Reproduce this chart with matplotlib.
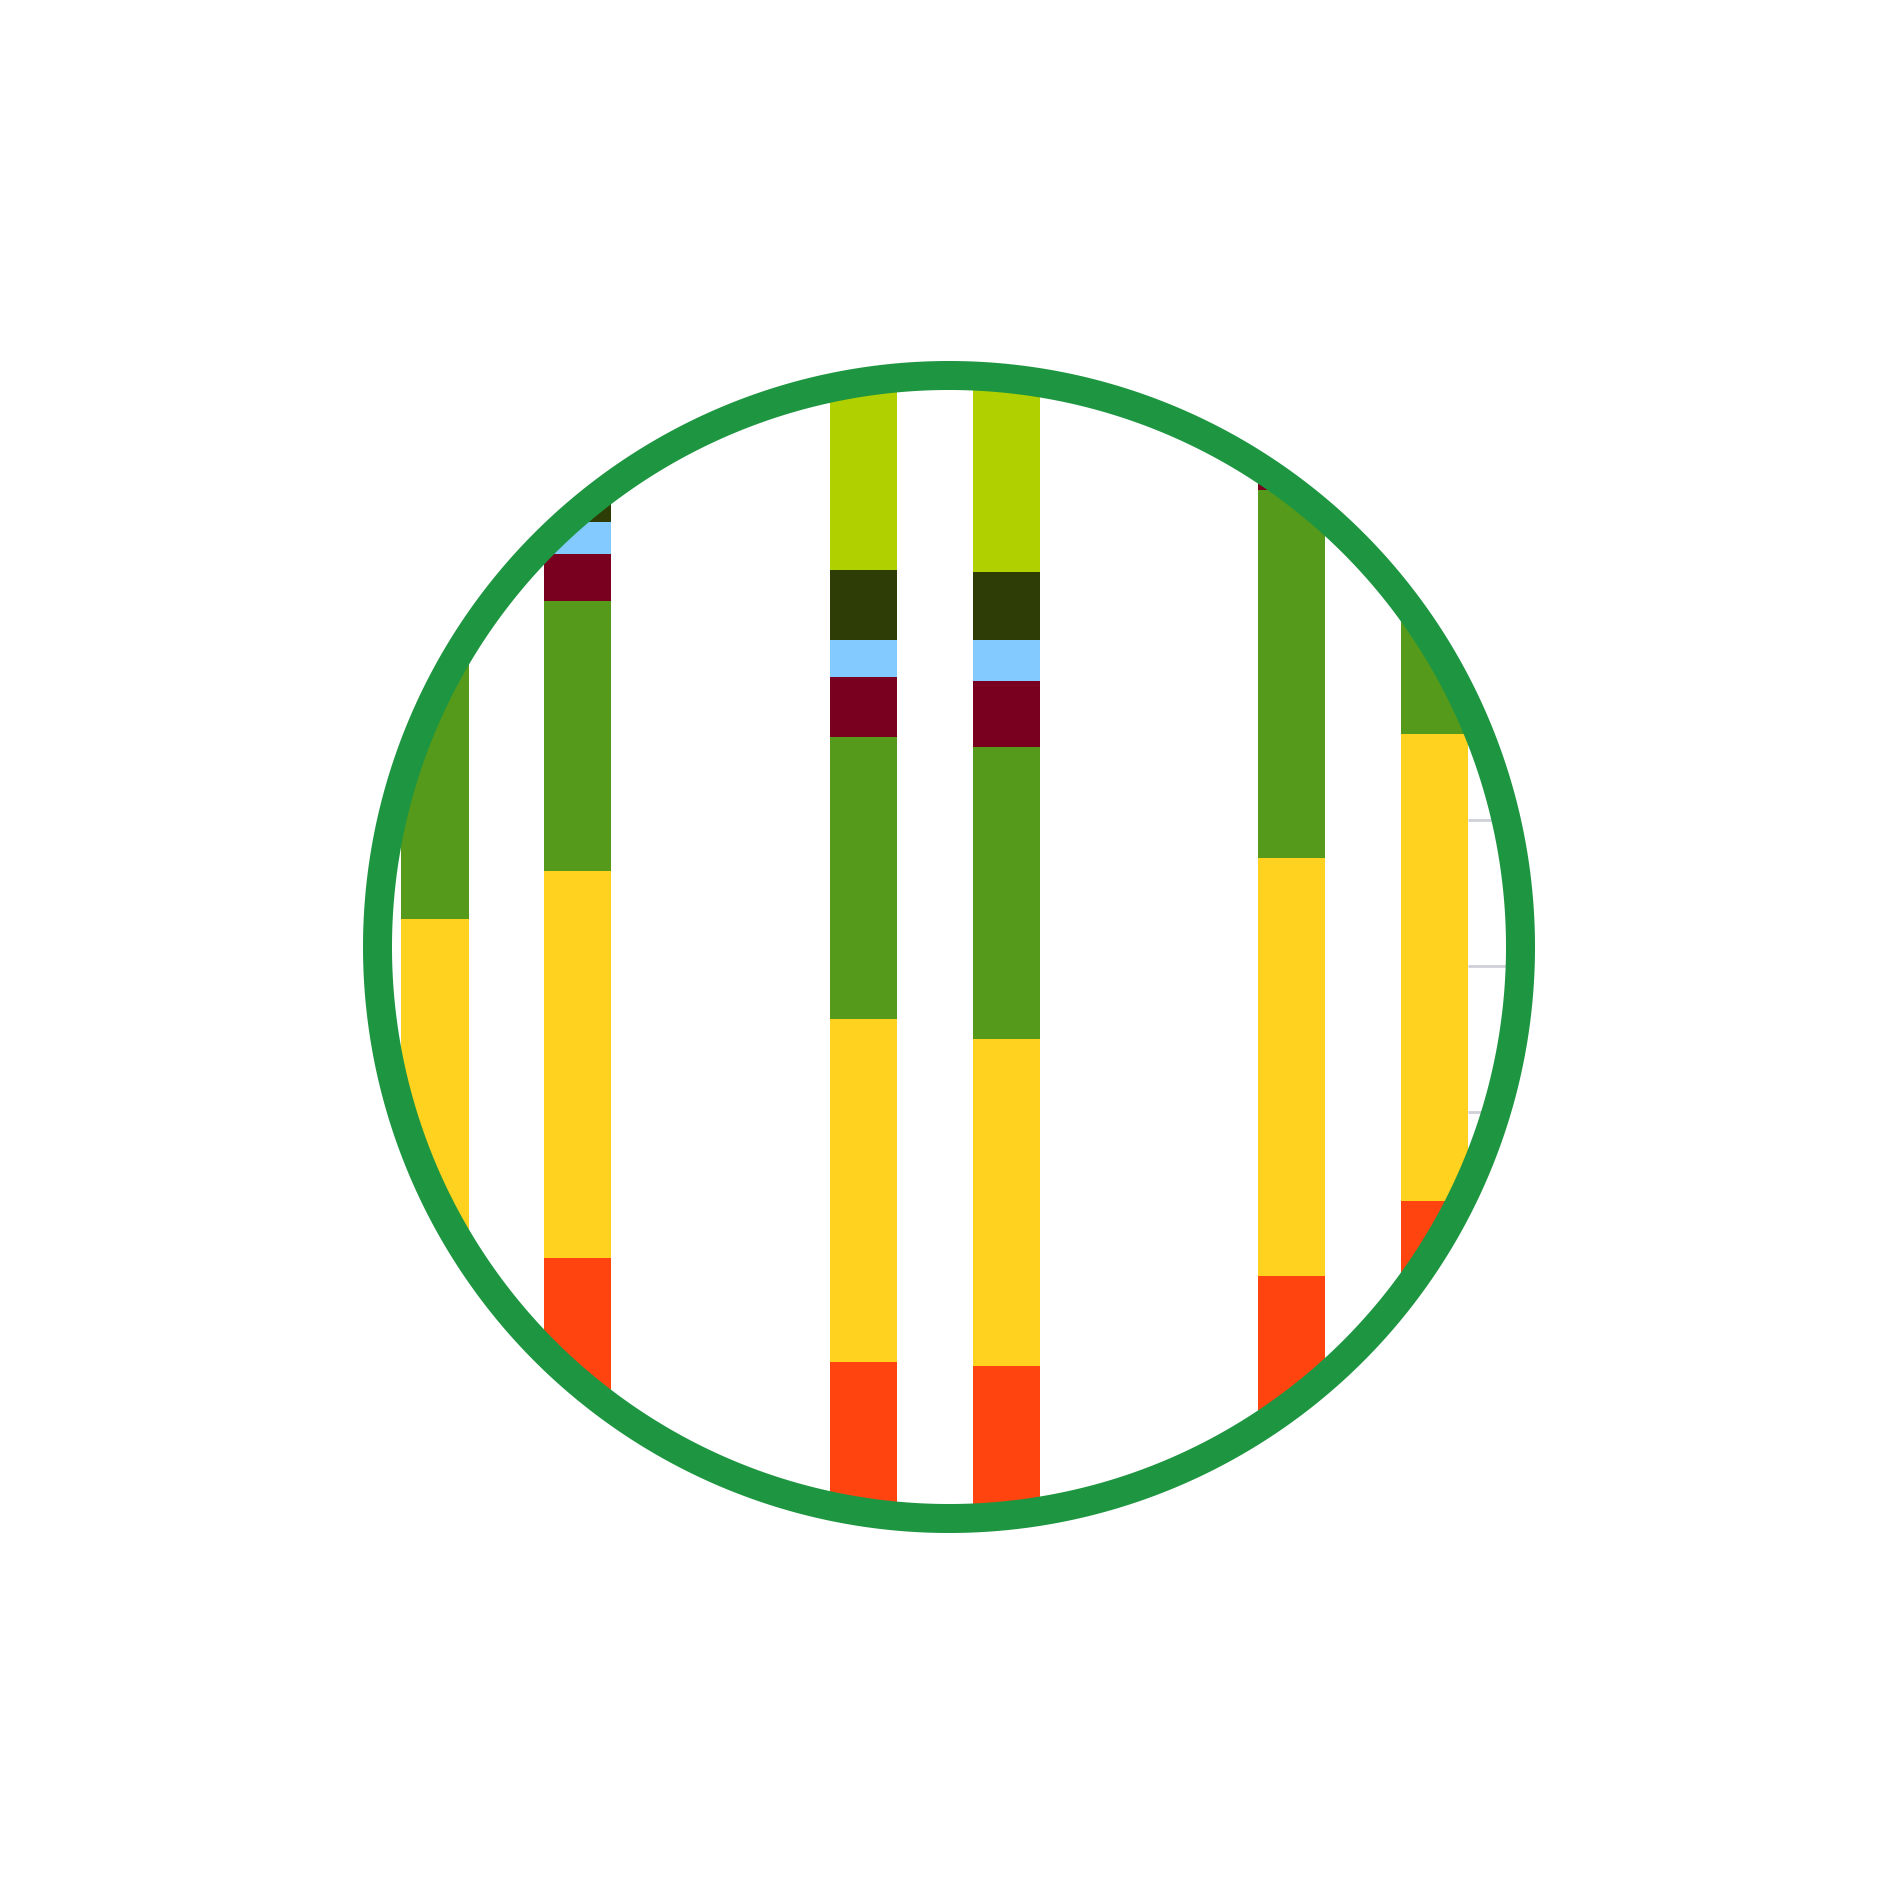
import matplotlib
matplotlib.use("Agg")
import matplotlib.pyplot as plt
from matplotlib.patches import Polygon
import numpy as np

# ---- data (stacked series, bottom to top) ----
categories = ["A1", "A2", "B1", "B2", "C1", "C2"]
red        = [20.0, 20.0, 12.9, 12.6, 18.8, 23.9]
yellow     = [23.2, 26.5, 23.5, 22.4, 28.6, 32.0]
green      = [20.0, 18.5, 19.3, 20.0, 25.2, 15.0]
maroon     = [3.0, 3.2, 4.1, 4.5, 2.0, 3.0]
lightblue  = [2.0, 2.2, 2.5, 2.8, 1.5, 2.0]
darkolive  = [3.0, 3.0, 4.8, 4.7, 2.0, 3.0]
lime       = [8.0, 8.0, 14.0, 14.0, 5.0, 6.0]
grid_values = [30, 40, 50]

series = [red, yellow, green, maroon, lightblue, darkolive, lime]
colors = ["#ff4410", "#fed21e", "#559a1a", "#7a0020", "#82caff", "#2e3d06", "#b0d000"]

W, H, DPI = 1900, 1884, 100
fig = plt.figure(figsize=(W / DPI, H / DPI), dpi=DPI)
fig.patch.set_facecolor("white")
ax = fig.add_axes([0, 0, 1, 1])
ax.set_axis_off()

# pixel mapping: x_px = 435 + 142.8*x ; y_px(top) = 1550 - 14.6*v
sx, x0 = 142.8, 435.0
sy, y0 = 14.6, 1550.0
ax.set_xlim(-x0 / sx, (W - x0) / sx)
ax.set_ylim((y0 - H) / sy, y0 / sy)

xpos = np.array([0, 1, 3, 4, 6, 7], dtype=float)
width = 0.47

# circle (in figure inches), densely sampled for a smooth outline
cx, cy = 949 / DPI, (H - 947) / DPI
r_ring = 571.5 / DPI
t = np.linspace(0, 2 * np.pi, 4000, endpoint=False)
pts = np.column_stack([cx + r_ring * np.cos(t), cy + r_ring * np.sin(t)])
clip = Polygon(pts, closed=True, transform=fig.dpi_scale_trans)

# gridlines only to the right of last bar
gl = ax.hlines(grid_values, xpos[-1] + width / 2, xpos[-1] + 3, colors="#d0d0d8",
               linewidth=2.0, zorder=1)
gl.set_clip_path(clip)

bottom = np.zeros(len(categories))
for vals, col in zip(series, colors):
    bars = ax.bar(xpos, vals, width=width, bottom=bottom, color=col,
                  linewidth=0, zorder=2)
    for b in bars:
        b.set_clip_path(clip)
    bottom += np.array(vals)

ring = Polygon(pts, closed=True, transform=fig.dpi_scale_trans, fill=False,
               edgecolor="#1e9641", linewidth=29 * 72 / DPI, zorder=5,
               joinstyle="round")
fig.add_artist(ring)

fig.savefig("out.png", dpi=DPI, facecolor="white")
